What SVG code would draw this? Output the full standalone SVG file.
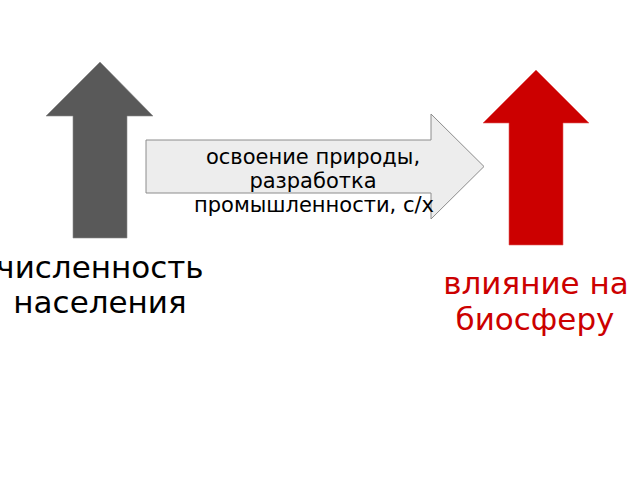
<svg xmlns="http://www.w3.org/2000/svg" width="640" height="480" viewBox="0 0 640 480">
<style>
text { font-family: "DejaVu Sans", "Liberation Sans", sans-serif; text-anchor: middle; }
.mid { font-size: 21px; fill: #000000; }
.big { font-size: 31px; }
.gray { fill: #595959; stroke: #8a8a8a; stroke-width: 0.6; }
.red { fill: #cc0000; stroke: #e06060; stroke-width: 0.6; }
.flow { fill: #ededed; stroke: #8c8c8c; stroke-width: 1; }
</style>
<rect width="640" height="480" fill="#ffffff"/>
<g id="connectors">
<polygon class="flow" points="146,140 431,140 431,114 484,166.5 431,219 431,193 146,193"/>
</g>
<g id="node-population">
<polygon class="gray" points="100,62 153,116 127,116 127,238 73,238 73,116 46,116"/>
<text class="big" x="100" y="278" fill="#000000">численность</text>
<text class="big" x="100" y="313" fill="#000000">населения</text>
</g>
<g id="node-impact">
<polygon class="red" points="536,70 589,123 563,123 563,245 509,245 509,123 483,123"/>
<text class="big" x="536" y="294" fill="#cc0000">влияние на</text>
<text class="big" x="535" y="330" fill="#cc0000">биосферу</text>
</g>
<g id="label-flow">
<text class="mid" x="313" y="164">освоение природы,</text>
<text class="mid" x="313" y="188">разработка</text>
<text class="mid" x="314" y="212">промышленности, с/х</text>
</g>
</svg>
